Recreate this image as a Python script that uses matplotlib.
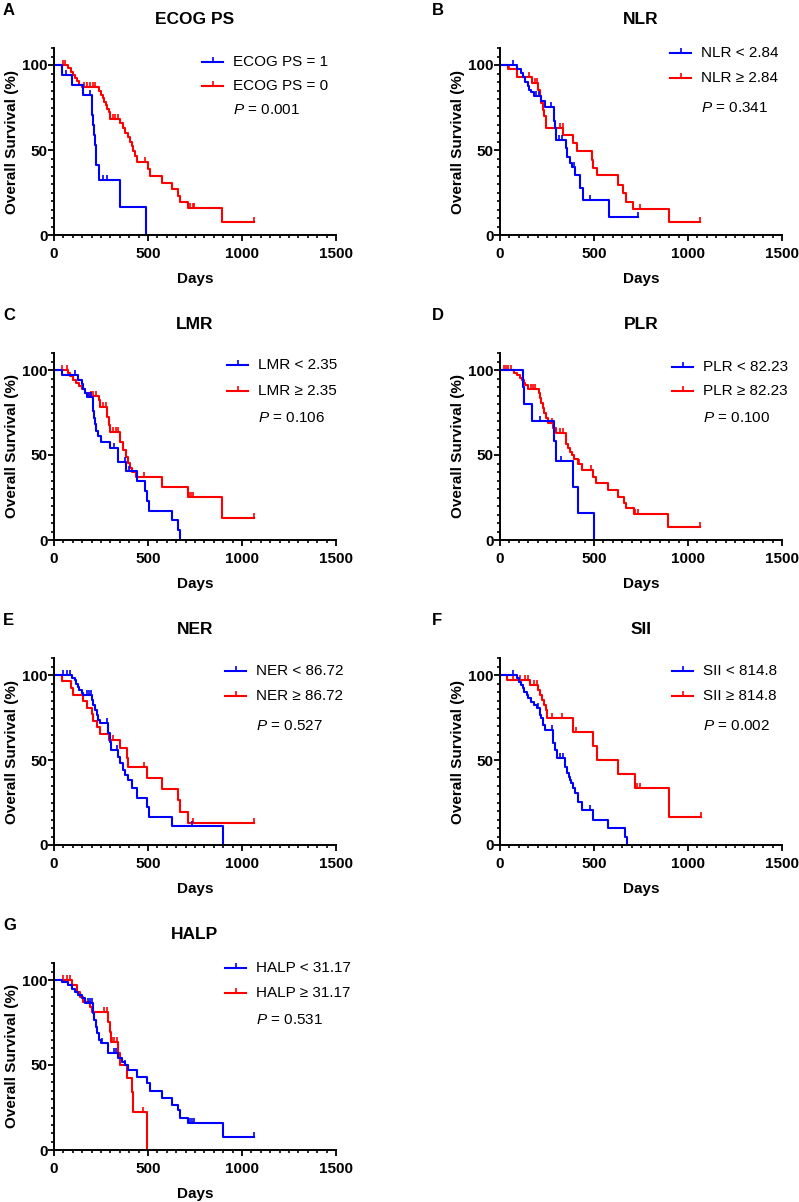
import numpy as np
import matplotlib
matplotlib.use("Agg")
import matplotlib.pyplot as plt

plt.rcParams['font.family'] = ['Liberation Sans', 'DejaVu Sans']
plt.rcParams['mathtext.fontset'] = 'custom'
plt.rcParams['mathtext.it'] = 'Liberation Sans:italic'
plt.rcParams['mathtext.rm'] = 'Liberation Sans'

BLUE = '#0000FF'
RED = '#FF0000'

# ---------------- data (days, survival % after each death, censored days) -------------
# A  ECOG PS
a_blue_t = [41, 94, 156, 200, 204, 208, 212, 216, 221, 226, 240, 353, 491]
a_blue_s = [94.1, 88.2, 82.4, 76.5, 70.6, 64.7, 58.8, 52.9, 47.1, 41.2, 32.4, 16.2, 0]
a_blue_c = [66, 190, 262, 284]
a_red_t = [72, 88, 100, 112, 122, 134, 147, 238, 250, 260, 268, 276, 284, 292, 300, 351,
           366, 380, 392, 404, 413, 422, 431, 440, 502, 511, 573, 626, 661, 670, 714, 895]
a_red_s = [98.0, 96.1, 94.2, 92.3, 90.4, 88.5, 86.8, 84.7, 82.6, 80.5, 78.4, 76.3, 74.2, 72.1,
           68.3, 65.6, 62.9, 60.2, 57.5, 54.8, 52.1, 49.4, 46.3, 42.7, 39.1, 34.6, 30.7, 26.8,
           22.9, 19.5, 15.6, 7.8]
a_red_c = [46, 58, 160, 175, 190, 205, 220, 312, 326, 339, 484, 723, 737, 745, 1062]

# B  NLR
b_blue_t = [89, 112, 124, 135, 147, 156, 165, 183, 218, 240, 289, 292, 298, 351, 356, 372,
            384, 400, 425, 440, 578]
b_blue_s = [97.6, 95.1, 92.7, 90.2, 87.8, 85.4, 83.9, 81.5, 78.9, 75.5, 67.1, 62.9, 55.9,
            51.0, 46.1, 42.3, 39.9, 35.3, 27.5, 20.6, 10.3]
b_blue_c = [67, 191, 209, 270, 312, 330, 392, 481, 736]
b_red_t = [41, 91, 170, 200, 212, 220, 228, 236, 245, 337, 390, 408, 488, 497, 514, 630,
           656, 670, 709, 900]
b_red_s = [97.6, 92.7, 89.3, 85.4, 81.5, 77.6, 73.7, 69.8, 62.8, 58.8, 54.0, 49.6, 44.1,
           39.2, 35.3, 29.4, 24.9, 19.6, 15.1, 7.8]
b_red_c = [50, 152, 185, 195, 320, 335, 745, 1065]

# C  LMR
c_blue_t = [41, 129, 147, 156, 165, 174, 206, 209, 213, 218, 224, 232, 250, 298, 342, 383,
            440, 484, 493, 507, 626, 658, 670]
c_blue_s = [97.1, 94.3, 91.7, 89.1, 86.5, 84.0, 80.0, 76.0, 72.0, 68.0, 64.0, 61.0, 57.8,
            53.9, 46.1, 40.4, 34.6, 28.8, 23.1, 17.3, 11.5, 5.8, 0]
c_blue_c = [112, 185, 195, 320, 375, 400]
c_red_t = [72, 85, 100, 118, 135, 150, 165, 185, 241, 245, 284, 290, 298, 351, 369, 383,
           395, 404, 413, 436, 573, 715, 895]
c_red_s = [98.1, 96.2, 94.3, 92.4, 90.5, 88.6, 86.7, 84.8, 82.2, 78.4, 72.5, 67.6, 63.7,
           57.8, 52.9, 49.0, 45.1, 42.2, 40.2, 37.3, 31.4, 25.5, 12.7]
c_red_c = [45, 68, 195, 210, 225, 260, 275, 315, 330, 340, 478, 720, 730, 740, 1062]

# D  PLR
d_blue_t = [121, 130, 170, 289, 298, 390, 413, 502]
d_blue_s = [90.0, 80.0, 70.0, 58.3, 46.7, 31.1, 15.6, 0]
d_blue_c = [213, 324]
d_red_t = [76, 90, 105, 115, 125, 135, 150, 205, 212, 220, 228, 235, 245, 255, 284, 298,
           351, 360, 372, 383, 396, 413, 435, 493, 511, 576, 630, 661, 670, 711, 895]
d_red_s = [98.5, 97.0, 95.5, 94.0, 92.5, 91.0, 88.6, 86.5, 83.5, 80.6, 77.6, 74.6, 71.6,
           68.6, 65.7, 62.7, 56.2, 53.9, 52.0, 50.0, 47.5, 44.7, 41.2, 37.3, 33.3, 29.4,
           25.5, 21.6, 18.6, 15.3, 7.8]
d_red_c = [20, 33, 45, 58, 165, 175, 185, 275, 320, 335, 420, 484, 720, 735, 1062]

# E  NER
e_blue_t = [94, 110, 118, 127, 135, 147, 156, 200, 209, 218, 227, 235, 244, 289, 296, 303,
            342, 351, 365, 378, 395, 413, 440, 493, 507, 626, 897]
e_blue_s = [98.4, 96.8, 95.0, 93.0, 91.0, 89.5, 88.2, 85.5, 82.5, 79.5, 76.5, 73.5, 71.6,
            65.7, 60.8, 55.9, 52.0, 48.0, 44.1, 41.2, 38.2, 33.3, 27.5, 22.2, 16.7, 11.1, 0]
e_blue_c = [50, 67, 85, 175, 185, 195, 280, 335, 732]
e_red_t = [41, 89, 99, 156, 174, 200, 209, 227, 244, 293, 350, 387, 396, 493, 573, 661,
           670, 714]
e_red_s = [96.2, 92.3, 88.5, 84.6, 80.8, 76.9, 73.1, 69.2, 65.4, 61.5, 56.9, 51.3, 45.9,
           39.3, 32.8, 26.2, 19.7, 13.1]
e_red_c = [316, 480, 741, 1062]

# F  SII
f_blue_t = [89, 100, 110, 120, 130, 141, 150, 165, 180, 195, 213, 220, 228, 240, 284, 293,
            301, 345, 355, 365, 372, 380, 390, 400, 413, 434, 496, 576, 665, 674]
f_blue_s = [98.0, 96.0, 94.1, 92.2, 90.2, 88.2, 86.3, 84.3, 82.4, 80.4, 76.5, 74.5, 70.6,
            67.6, 59.8, 55.9, 51.0, 46.1, 42.2, 40.2, 38.2, 36.3, 33.3, 30.4, 25.5, 20.6,
            14.7, 9.8, 4.9, 0]
f_blue_c = [71, 200, 275, 318, 333, 480]
f_red_t = [35, 160, 204, 215, 222, 235, 245, 250, 390, 497, 514, 630, 719, 900]
f_red_s = [97.1, 94.1, 91.2, 88.2, 85.3, 82.4, 79.4, 74.5, 66.7, 58.3, 50.0, 41.7, 33.3, 16.7]
f_red_c = [71, 106, 133, 151, 183, 195, 275, 328, 406, 728, 745, 1069]

# G  HALP
g_blue_t = [45, 72, 94, 112, 130, 147, 165, 209, 215, 221, 227, 240, 248, 289, 342, 360,
            378, 395, 440, 493, 510, 573, 626, 661, 670, 714, 897]
g_blue_s = [99.0, 97.0, 95.0, 93.1, 91.2, 89.2, 86.3, 80.4, 76.5, 72.5, 68.6, 64.7, 62.7,
            56.9, 53.9, 52.0, 50.0, 47.1, 43.1, 39.2, 34.9, 30.4, 26.5, 23.5, 18.6, 15.7, 7.8]
g_blue_c = [180, 190, 200, 256, 320, 330, 378, 725, 735, 745, 1065]
g_red_t = [94, 121, 138, 156, 191, 200, 289, 296, 303, 342, 350, 386, 413, 422, 493]
g_red_s = [97.0, 93.1, 90.2, 87.3, 84.3, 81.4, 75.5, 69.6, 63.7, 56.9, 50.0, 42.2, 34.3,
           22.5, 0]
g_red_c = [49, 67, 85, 265, 280, 310, 320, 335, 475]

letters = ['A', 'B', 'C', 'D', 'E', 'F', 'G']
titles = ['ECOG PS', 'NLR', 'LMR', 'PLR', 'NER', 'SII', 'HALP']
blue_labels = ['ECOG PS = 1', 'NLR < 2.84', 'LMR < 2.35', 'PLR < 82.23',
               'NER < 86.72', 'SII < 814.8', 'HALP < 31.17']
red_labels = ['ECOG PS = 0', 'NLR \u2265 2.84', 'LMR \u2265 2.35', 'PLR \u2265 82.23',
              'NER \u2265 86.72', 'SII \u2265 814.8', 'HALP \u2265 31.17']
p_values = ['0.001', '0.341', '0.106', '0.100', '0.527', '0.002', '0.531']
blue_data = [(a_blue_t, a_blue_s, a_blue_c), (b_blue_t, b_blue_s, b_blue_c),
             (c_blue_t, c_blue_s, c_blue_c), (d_blue_t, d_blue_s, d_blue_c),
             (e_blue_t, e_blue_s, e_blue_c), (f_blue_t, f_blue_s, f_blue_c),
             (g_blue_t, g_blue_s, g_blue_c)]
red_data = [(a_red_t, a_red_s, a_red_c), (b_red_t, b_red_s, b_red_c),
            (c_red_t, c_red_s, c_red_c), (d_red_t, d_red_s, d_red_c),
            (e_red_t, e_red_s, e_red_c), (f_red_t, f_red_s, f_red_c),
            (g_red_t, g_red_s, g_red_c)]

# legend layout (pixels): line start from axes left, row1 / row2 / P offsets from axes top
leg_x = [148, 170, 173, 172, 171, 172, 171]
leg_rows = [(13.7, 37.7, 61.7), (4.7, 29.7, 59.7), (12.3, 38.3, 65.3), (14.0, 38.0, 65.3),
            (12.7, 38.3, 68.3), (12.7, 38.3, 68.3), (5.0, 30.0, 57.3)]

W, H = 799, 1202
AX_W, AX_H = 282, 187
col_left = [54, 500]
row_bottom = [235, 540, 845, 1150]


def km_steps(t, s, c):
    end = max([t[-1]] + list(c))
    x = np.r_[0, t, end]
    y = np.r_[100, s, s[-1]]
    return x, y


def surv_at(t, s, c):
    idx = np.searchsorted(t, c, side='right')
    return np.r_[100, s][idx]


fig = plt.figure(figsize=(W / 100, H / 100), dpi=100)

for i in range(7):
    col = i % 2
    row = i // 2
    left = col_left[col]
    bottom = row_bottom[row]
    ax = fig.add_axes([left / W, 1 - bottom / H, AX_W / W, AX_H / H])

    for (t, s, c), color in [(red_data[i], RED), (blue_data[i], BLUE)]:
        x, y = km_steps(t, s, c)
        ax.step(x, y, where='post', color=color, lw=1.5, clip_on=False)
        ax.plot(c, surv_at(t, s, c), ls='none', marker=2, ms=3.5, mew=1.2,
                color=color, clip_on=False)

    ax.set_xlim(0, 1500)
    ax.set_ylim(0, 110)
    ax.set_xticks([0, 500, 1000, 1500])
    ax.set_xticks(np.arange(0, 1501, 50), minor=True)
    ax.set_yticks([0, 50, 100])
    ax.set_yticks(np.arange(0, 111, 5), minor=True)
    ax.tick_params(which='major', direction='out', length=4, width=1.3,
                   labelsize=11, pad=4.5)
    ax.tick_params(which='minor', direction='out', length=2.5, width=1.2)
    ax.tick_params(axis='y', pad=0.5)
    for lab in ax.get_xticklabels() + ax.get_yticklabels():
        lab.set_fontweight('bold')
    for sp in ['top', 'right']:
        ax.spines[sp].set_visible(False)
    for sp in ['left', 'bottom']:
        ax.spines[sp].set_linewidth(1.4)

    ax.set_xlabel('Days', fontsize=11, fontweight='bold', labelpad=8)
    ax.set_ylabel('Overall Survival (%)', fontsize=11, fontweight='bold', labelpad=2)
    ax.set_title(titles[i], fontsize=12.5, fontweight='bold', pad=17)

    top_px = bottom - AX_H
    fig.text((3 if col == 0 else 432) / W, 1 - (top_px - 33) / H, letters[i],
             fontsize=12, fontweight='bold', va='baseline')

    # legend drawn in axes fraction
    lx0 = leg_x[i] / AX_W
    lx1 = (leg_x[i] + 21) / AX_W
    tx = (leg_x[i] + 31) / AX_W
    r1, r2, rp = leg_rows[i]
    for off, color, lab in [(r1, BLUE, blue_labels[i]), (r2, RED, red_labels[i])]:
        yy = 1 - off / AX_H
        ax.plot([lx0, lx1], [yy, yy], color=color, lw=1.5, transform=ax.transAxes,
                clip_on=False)
        ax.plot([(lx0 + lx1) / 2], [yy], marker=2, ms=3.5, mew=1.2, color=color,
                transform=ax.transAxes, clip_on=False)
        ax.text(tx, yy, lab, fontsize=11, va='center', ha='left', transform=ax.transAxes)
    ax.text(tx, 1 - rp / AX_H, '$P$ = ' + p_values[i], fontsize=11, va='center',
            ha='left', transform=ax.transAxes)

fig.savefig('out.png', dpi=100, facecolor='white')
